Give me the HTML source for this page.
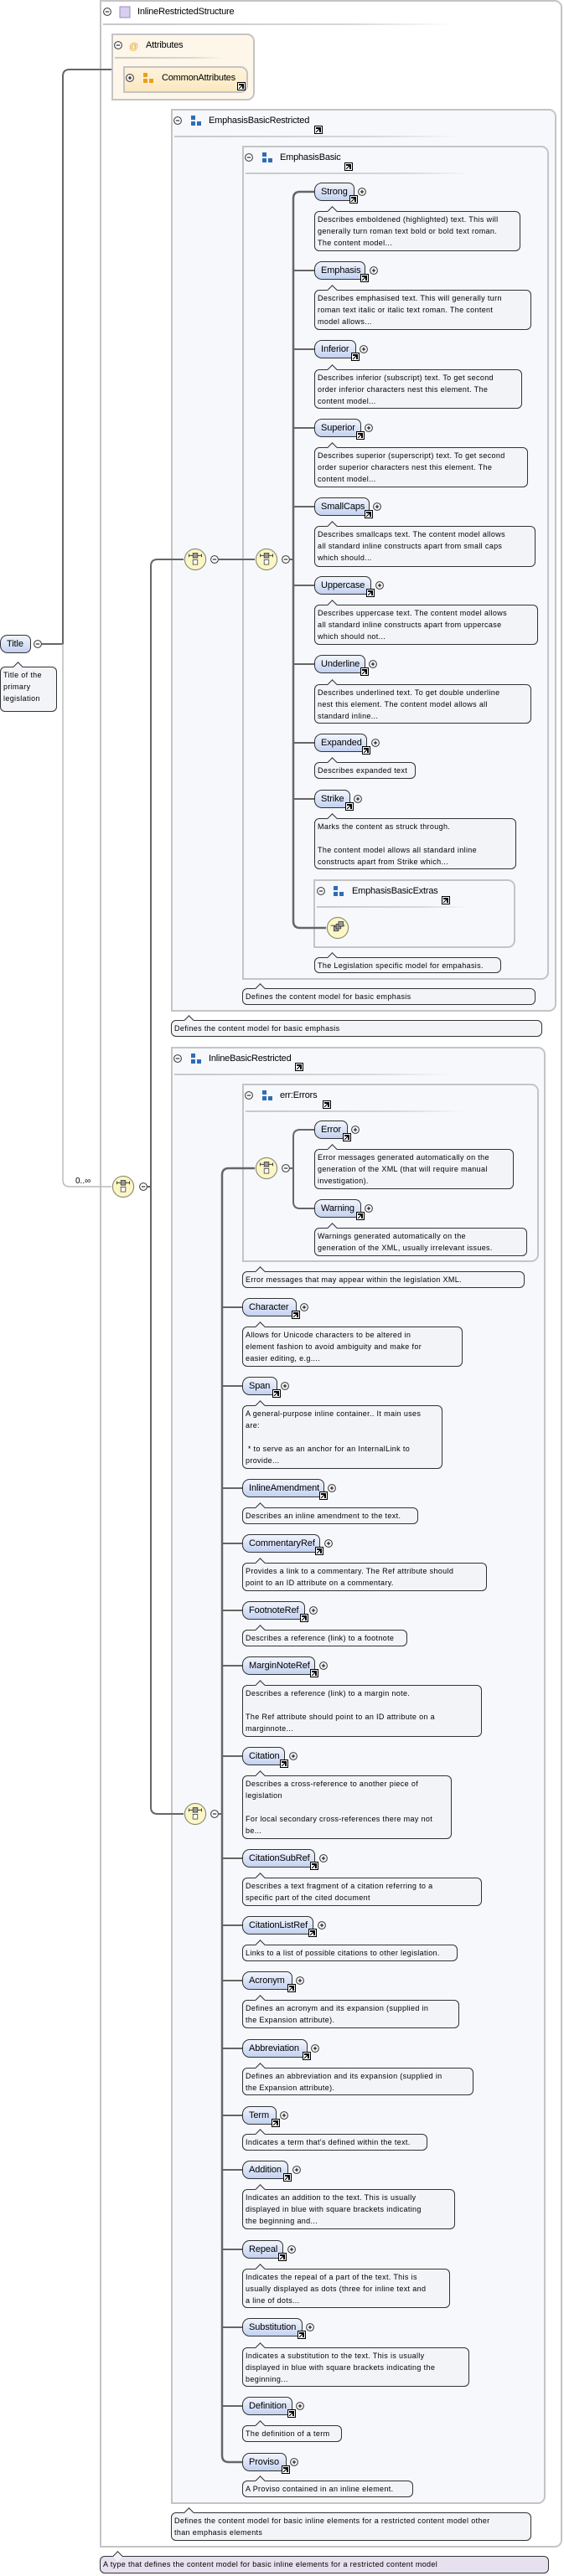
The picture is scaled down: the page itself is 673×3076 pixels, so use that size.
<!DOCTYPE html>
<html><head><meta charset="utf-8">
<style>
*{margin:0;padding:0;box-sizing:border-box}
body{width:673px;height:3076px;position:relative;background:#fff;font-family:"Liberation Sans",sans-serif;overflow:hidden}
.box{position:absolute;border:2px solid #c4c4c4;border-radius:0 9px 9px 0;background:#f6f8fc}
.sep{position:absolute;height:2px;background:linear-gradient(90deg,#c8c8c8,#d8d8d8 70%,rgba(255,255,255,0))}
.ht{position:absolute;font-size:11px;color:#000;letter-spacing:-0.2px;line-height:12px}
.el{position:absolute;height:22px;border:1px solid #333;border-radius:9px 7px 2px 9px;background:linear-gradient(#f2f5fd,#c3d2f1);font-size:11px;line-height:20px;padding-left:7px;color:#000;letter-spacing:-0.1px}
.lk{position:absolute;width:10px;height:10px;border:1px solid #000;background:#fff}
.lk:after{content:"";position:absolute;left:1px;top:1px;width:6px;height:6px;background:linear-gradient(135deg,transparent 42%,#000 42%,#000 58%,transparent 58%)}
.lk:before{content:"";position:absolute;right:1px;top:1px;width:4px;height:4px;border-top:2px solid #000;border-right:2px solid #000}
.d{position:absolute;border:1px solid #333;border-radius:6px;background:#f3f4f8;font-size:9px;letter-spacing:0.35px;line-height:14px;padding:2px 0 0 3px;color:#000;white-space:pre}
.d:before{content:"";position:absolute;left:16px;top:-5px;width:8px;height:8px;background:#f3f4f8;border-left:1px solid #333;border-top:1px solid #333;transform:rotate(45deg)}
</style></head><body>

<!-- containers -->
<div class="box" style="left:119px;top:0;width:552px;height:3042px;background:#fff"></div>
<div class="sep" style="left:123px;top:28px;width:420px"></div>
<div class="box" style="left:133px;top:40px;width:171px;height:80px;background:#fdf6e9"></div>
<div class="sep" style="left:137px;top:68px;width:130px"></div>
<div class="box" style="left:147px;top:79px;width:149px;height:32px;background:linear-gradient(#fdf3dc,#fbe8c0)"></div>
<div class="box" style="left:204px;top:130px;width:460px;height:1078px"></div>
<div class="sep" style="left:208px;top:162px;width:340px"></div>
<div class="box" style="left:289px;top:174px;width:366px;height:996px"></div>
<div class="sep" style="left:293px;top:206px;width:270px"></div>
<div class="box" style="left:374px;top:1050px;width:241px;height:82px"></div>
<div class="sep" style="left:378px;top:1082px;width:180px"></div>
<div class="box" style="left:204px;top:1250px;width:447px;height:1740px"></div>
<div class="sep" style="left:208px;top:1282px;width:330px"></div>
<div class="box" style="left:289px;top:1294px;width:354px;height:213px"></div>
<div class="sep" style="left:293px;top:1326px;width:260px"></div>

<!-- connectors & symbols -->
<svg width="673" height="3076" style="position:absolute;left:0;top:0">
<defs>
<symbol id="mn" viewBox="0 0 10 10"><circle cx="5" cy="5" r="4.4" fill="#fff" stroke="#333" stroke-width="1"/><line x1="2.8" y1="5" x2="7.2" y2="5" stroke="#000"/></symbol>
<symbol id="pl" viewBox="0 0 10 10"><circle cx="5" cy="5" r="4.4" fill="#fff" stroke="#333" stroke-width="1"/><line x1="2.8" y1="5" x2="7.2" y2="5" stroke="#000"/><line x1="5" y1="2.8" x2="5" y2="7.2" stroke="#000"/></symbol>
<symbol id="seq" viewBox="0 0 30 30"><circle cx="15" cy="15" r="13.5" fill="#fbf6c6" stroke="#8a8a70" stroke-width="1.2"/><line x1="7" y1="10" x2="23" y2="10" stroke="#333"/><line x1="7" y1="8" x2="7" y2="12" stroke="#333"/><line x1="23" y1="8" x2="23" y2="12" stroke="#333"/><rect x="12" y="7" width="6" height="6" fill="#999" stroke="#333" stroke-width=".8"/><rect x="12" y="15.5" width="6" height="6" fill="#fff" stroke="#333" stroke-width=".8"/></symbol>
<symbol id="ch" viewBox="0 0 30 30"><circle cx="15" cy="15" r="13.5" fill="#fbf6c6" stroke="#8a8a70" stroke-width="1.2"/><line x1="6" y1="12" x2="24" y2="12" stroke="#333"/><rect x="10" y="13" width="6" height="6" fill="#999" stroke="#333" stroke-width=".8"/><rect x="13" y="10" width="6" height="6" fill="#999" stroke="#333" stroke-width=".8"/><rect x="16" y="7" width="6" height="6" fill="#999" stroke="#333" stroke-width=".8"/></symbol>
</defs>
<g fill="none" stroke="#666" stroke-width="2">
<!-- Title connector -->
<path d="M50 769 H75 V91 Q75 83 83 83 H133"/>
<path d="M75 769 V1409 Q75 1417 83 1417 H133" stroke="#bbb" stroke-width="1.5"/>
<!-- 0..inf to sequence -->
<path d="M176 1417 H180 M180 1417 V676 Q180 668 188 668 H219 M180 1417 V2158 Q180 2166 188 2166 H219"/>
<path d="M261 668 H304"/>
<path d="M346 668 H350"/>
<path d="M389 1108 H358 Q350 1108 350 1100 V237 Q350 229 358 229 H375" stroke-width="2.5"/>
<path d="M350 323 H375 M350 417 H375 M350 511 H375 M350 605 H375 M350 699 H375 M350 793 H375 M350 887 H375 M350 954 H375"/>
<!-- inline -->
<path d="M304 1395 H273 Q265 1395 265 1403 V2932 Q265 2940 273 2940 H289" stroke-width="2.5"/>
<path d="M261 2166 H265"/>
<path d="M346 1395 H350 M375 1349 H358 Q350 1349 350 1357 V1435 Q350 1443 358 1443 H375"/>
<path d="M265 1561 H289 M265 1655 H289 M265 1777 H289 M265 1843 H289 M265 1923 H289 M265 1989 H289 M265 2097 H289 M265 2219 H289 M265 2299 H289 M265 2365 H289 M265 2446 H289 M265 2526 H289 M265 2591 H289 M265 2686 H289 M265 2779 H289 M265 2873 H289"/>
</g>
<use href="#seq" x="133" y="1403" width="28" height="28"/>
<use href="#seq" x="219" y="654" width="28" height="28"/>
<use href="#seq" x="304" y="654" width="28" height="28"/>
<use href="#seq" x="219" y="2152" width="28" height="28"/>
<use href="#seq" x="304" y="1381" width="28" height="28"/>
<use href="#ch" x="389" y="1094" width="28" height="28"/>
<!-- minus -->
<use href="#mn" x="123" y="9" width="10" height="10"/>
<use href="#mn" x="136" y="49" width="10" height="10"/>
<use href="#mn" x="207" y="139" width="10" height="10"/>
<use href="#mn" x="292" y="183" width="10" height="10"/>
<use href="#mn" x="378" y="1059" width="10" height="10"/>
<use href="#mn" x="207" y="1259" width="10" height="10"/>
<use href="#mn" x="292" y="1303" width="10" height="10"/>
<use href="#mn" x="40" y="764" width="10" height="10"/>
<use href="#mn" x="166" y="1412" width="10" height="10"/>
<use href="#mn" x="251" y="663" width="10" height="10"/>
<use href="#mn" x="336" y="663" width="10" height="10"/>
<use href="#mn" x="251" y="2161" width="10" height="10"/>
<use href="#mn" x="336" y="1390" width="10" height="10"/>
<use href="#pl" x="150" y="88" width="10" height="10"/>
<!-- plus for elements -->
<use href="#pl" x="427" y="224" width="10" height="10"/>
<use href="#pl" x="441" y="318" width="10" height="10"/>
<use href="#pl" x="429" y="412" width="10" height="10"/>
<use href="#pl" x="435" y="506" width="10" height="10"/>
<use href="#pl" x="445" y="600" width="10" height="10"/>
<use href="#pl" x="448" y="694" width="10" height="10"/>
<use href="#pl" x="440" y="788" width="10" height="10"/>
<use href="#pl" x="443" y="882" width="10" height="10"/>
<use href="#pl" x="422" y="949" width="10" height="10"/>
<use href="#pl" x="419" y="1344" width="10" height="10"/>
<use href="#pl" x="435" y="1438" width="10" height="10"/>
<use href="#pl" x="358" y="1556" width="10" height="10"/>
<use href="#pl" x="335" y="1650" width="10" height="10"/>
<use href="#pl" x="391" y="1772" width="10" height="10"/>
<use href="#pl" x="387" y="1838" width="10" height="10"/>
<use href="#pl" x="369" y="1918" width="10" height="10"/>
<use href="#pl" x="381" y="1984" width="10" height="10"/>
<use href="#pl" x="345" y="2092" width="10" height="10"/>
<use href="#pl" x="381" y="2214" width="10" height="10"/>
<use href="#pl" x="379" y="2294" width="10" height="10"/>
<use href="#pl" x="353" y="2360" width="10" height="10"/>
<use href="#pl" x="371" y="2441" width="10" height="10"/>
<use href="#pl" x="334" y="2521" width="10" height="10"/>
<use href="#pl" x="349" y="2586" width="10" height="10"/>
<use href="#pl" x="343" y="2681" width="10" height="10"/>
<use href="#pl" x="365" y="2774" width="10" height="10"/>
<use href="#pl" x="353" y="2868" width="10" height="10"/>
<use href="#pl" x="346" y="2935" width="10" height="10"/>
<!-- header icons -->
<rect x="143" y="8" width="12" height="13" fill="#d8cff0" stroke="#9a8cc0"/>
<text x="154" y="59" font-family="Liberation Sans" font-size="11" fill="#e3a020">@</text>
<g fill="#e8a020"><rect x="171" y="87" width="5" height="5"/><rect x="171" y="94" width="5" height="5"/><rect x="178" y="94" width="5" height="5"/></g>
<g fill="#2f6db5"><rect x="228" y="138" width="5" height="5"/><rect x="228" y="145" width="5" height="5"/><rect x="235" y="145" width="5" height="5"/>
<rect x="313" y="182" width="5" height="5"/><rect x="313" y="189" width="5" height="5"/><rect x="320" y="189" width="5" height="5"/>
<rect x="398" y="1058" width="5" height="5"/><rect x="398" y="1065" width="5" height="5"/><rect x="405" y="1065" width="5" height="5"/>
<rect x="228" y="1258" width="5" height="5"/><rect x="228" y="1265" width="5" height="5"/><rect x="235" y="1265" width="5" height="5"/>
<rect x="313" y="1302" width="5" height="5"/><rect x="313" y="1309" width="5" height="5"/><rect x="320" y="1309" width="5" height="5"/></g>
<text x="90" y="1413" font-family="Liberation Sans" font-size="10" fill="#000">0..∞</text>
</svg>

<!-- headers -->
<div class="ht" style="left:164px;top:8px">InlineRestrictedStructure</div>
<div class="ht" style="left:174px;top:48px">Attributes</div>
<div class="ht" style="left:193px;top:87px">CommonAttributes</div><div class="lk" style="left:283px;top:98px"></div>
<div class="ht" style="left:249px;top:138px">EmphasisBasicRestricted</div><div class="lk" style="left:375px;top:150px"></div>
<div class="ht" style="left:334px;top:182px">EmphasisBasic</div><div class="lk" style="left:411px;top:194px"></div>
<div class="ht" style="left:420px;top:1058px">EmphasisBasicExtras</div><div class="lk" style="left:527px;top:1070px"></div>
<div class="ht" style="left:249px;top:1258px">InlineBasicRestricted</div><div class="lk" style="left:352px;top:1269px"></div>
<div class="ht" style="left:334px;top:1302px">err:Errors</div><div class="lk" style="left:385px;top:1314px"></div>

<!-- Title -->
<div class="el" style="left:0;top:758px;width:37px;border-radius:9px 7px 7px 9px">Title</div>
<div class="d" style="left:0;top:796px;width:68px;height:54px">Title of the
primary
legislation</div>

<!-- Emphasis elements -->
<div class="el" style="left:375px;top:218px;width:48px">Strong</div><div class="lk" style="left:417px;top:233px"></div>
<div class="d" style="left:375px;top:252px;width:246px;height:48px">Describes emboldened (highlighted) text. This will
generally turn roman text bold or bold text roman.
The content model...</div>
<div class="el" style="left:375px;top:312px;width:61px">Emphasis</div><div class="lk" style="left:430px;top:327px"></div>
<div class="d" style="left:375px;top:346px;width:259px;height:48px">Describes emphasised text. This will generally turn
roman text italic or italic text roman. The content
model allows...</div>
<div class="el" style="left:375px;top:406px;width:50px">Inferior</div><div class="lk" style="left:419px;top:421px"></div>
<div class="d" style="left:375px;top:441px;width:248px;height:47px">Describes inferior (subscript) text. To get second
order inferior characters nest this element. The
content model...</div>
<div class="el" style="left:375px;top:500px;width:56px">Superior</div><div class="lk" style="left:425px;top:515px"></div>
<div class="d" style="left:375px;top:534px;width:255px;height:48px">Describes superior (superscript) text. To get second
order superior characters nest this element. The
content model...</div>
<div class="el" style="left:375px;top:594px;width:66px">SmallCaps</div><div class="lk" style="left:435px;top:609px"></div>
<div class="d" style="left:375px;top:628px;width:264px;height:49px">Describes smallcaps text. The content model allows
all standard inline constructs apart from small caps
which should...</div>
<div class="el" style="left:375px;top:688px;width:68px">Uppercase</div><div class="lk" style="left:437px;top:703px"></div>
<div class="d" style="left:375px;top:722px;width:267px;height:48px">Describes uppercase text. The content model allows
all standard inline constructs apart from uppercase
which should not...</div>
<div class="el" style="left:375px;top:782px;width:61px">Underline</div><div class="lk" style="left:430px;top:797px"></div>
<div class="d" style="left:375px;top:817px;width:259px;height:47px">Describes underlined text. To get double underline
nest this element. The content model allows all
standard inline...</div>
<div class="el" style="left:375px;top:876px;width:63px">Expanded</div><div class="lk" style="left:432px;top:891px"></div>
<div class="d" style="left:375px;top:910px;width:121px;height:20px">Describes expanded text</div>
<div class="el" style="left:375px;top:943px;width:43px">Strike</div><div class="lk" style="left:412px;top:958px"></div>
<div class="d" style="left:375px;top:977px;width:241px;height:61px">Marks the content as struck through.

The content model allows all standard inline
constructs apart from Strike which...</div>
<div class="d" style="left:375px;top:1143px;width:223px;height:19px">The Legislation specific model for empahasis.</div>
<div class="d" style="left:289px;top:1180px;width:350px;height:20px">Defines the content model for basic emphasis</div>
<div class="d" style="left:204px;top:1218px;width:443px;height:20px">Defines the content model for basic emphasis</div>

<!-- errors -->
<div class="el" style="left:375px;top:1338px;width:40px">Error</div><div class="lk" style="left:409px;top:1353px"></div>
<div class="d" style="left:375px;top:1372px;width:238px;height:48px">Error messages generated automatically on the
generation of the XML (that will require manual
investigation).</div>
<div class="el" style="left:375px;top:1432px;width:56px">Warning</div><div class="lk" style="left:425px;top:1447px"></div>
<div class="d" style="left:375px;top:1466px;width:254px;height:34px">Warnings generated automatically on the
generation of the XML, usually irrelevant issues.</div>
<div class="d" style="left:289px;top:1518px;width:337px;height:20px">Error messages that may appear within the legislation XML.</div>

<!-- inline elements -->
<div class="el" style="left:289px;top:1550px;width:65px">Character</div><div class="lk" style="left:348px;top:1565px"></div>
<div class="d" style="left:289px;top:1584px;width:263px;height:48px">Allows for Unicode characters to be altered in
element fashion to avoid ambiguity and make for
easier editing, e.g....</div>
<div class="el" style="left:289px;top:1644px;width:42px">Span</div><div class="lk" style="left:325px;top:1659px"></div>
<div class="d" style="left:289px;top:1678px;width:239px;height:76px">A general-purpose inline container.. It main uses
are:

 * to serve as an anchor for an InternalLink to
provide...</div>
<div class="el" style="left:289px;top:1766px;width:98px">InlineAmendment</div><div class="lk" style="left:381px;top:1781px"></div>
<div class="d" style="left:289px;top:1800px;width:210px;height:20px">Describes an inline amendment to the text.</div>
<div class="el" style="left:289px;top:1832px;width:93px">CommentaryRef</div><div class="lk" style="left:376px;top:1847px"></div>
<div class="d" style="left:289px;top:1866px;width:292px;height:34px">Provides a link to a commentary. The Ref attribute should
point to an ID attribute on a commentary.</div>
<div class="el" style="left:289px;top:1912px;width:75px">FootnoteRef</div><div class="lk" style="left:358px;top:1927px"></div>
<div class="d" style="left:289px;top:1946px;width:197px;height:20px">Describes a reference (link) to a footnote</div>
<div class="el" style="left:289px;top:1978px;width:87px">MarginNoteRef</div><div class="lk" style="left:370px;top:1993px"></div>
<div class="d" style="left:289px;top:2012px;width:286px;height:62px">Describes a reference (link) to a margin note.

The Ref attribute should point to an ID attribute on a
marginnote...</div>
<div class="el" style="left:289px;top:2086px;width:51px">Citation</div><div class="lk" style="left:334px;top:2101px"></div>
<div class="d" style="left:289px;top:2120px;width:250px;height:76px">Describes a cross-reference to another piece of
legislation

For local secondary cross-references there may not
be...</div>
<div class="el" style="left:289px;top:2208px;width:87px">CitationSubRef</div><div class="lk" style="left:370px;top:2223px"></div>
<div class="d" style="left:289px;top:2242px;width:286px;height:34px">Describes a text fragment of a citation referring to a
specific part of the cited document</div>
<div class="el" style="left:289px;top:2288px;width:85px">CitationListRef</div><div class="lk" style="left:368px;top:2303px"></div>
<div class="d" style="left:289px;top:2322px;width:257px;height:20px">Links to a list of possible citations to other legislation.</div>
<div class="el" style="left:289px;top:2354px;width:60px">Acronym</div><div class="lk" style="left:343px;top:2369px"></div>
<div class="d" style="left:289px;top:2388px;width:259px;height:34px">Defines an acronym and its expansion (supplied in
the Expansion attribute).</div>
<div class="el" style="left:289px;top:2435px;width:78px">Abbreviation</div><div class="lk" style="left:361px;top:2450px"></div>
<div class="d" style="left:289px;top:2469px;width:276px;height:33px">Defines an abbreviation and its expansion (supplied in
the Expansion attribute).</div>
<div class="el" style="left:289px;top:2515px;width:41px">Term</div><div class="lk" style="left:324px;top:2530px"></div>
<div class="d" style="left:289px;top:2548px;width:221px;height:20px">Indicates a term that's defined within the text.</div>
<div class="el" style="left:289px;top:2580px;width:55px">Addition</div><div class="lk" style="left:338px;top:2595px"></div>
<div class="d" style="left:289px;top:2614px;width:254px;height:48px">Indicates an addition to the text. This is usually
displayed in blue with square brackets indicating
the beginning and...</div>
<div class="el" style="left:289px;top:2675px;width:49px">Repeal</div><div class="lk" style="left:332px;top:2690px"></div>
<div class="d" style="left:289px;top:2709px;width:248px;height:47px">Indicates the repeal of a part of the text. This is
usually displayed as dots (three for inline text and
a line of dots...</div>
<div class="el" style="left:289px;top:2768px;width:72px">Substitution</div><div class="lk" style="left:355px;top:2783px"></div>
<div class="d" style="left:289px;top:2803px;width:271px;height:47px">Indicates a substitution to the text. This is usually
displayed in blue with square brackets indicating the
beginning...</div>
<div class="el" style="left:289px;top:2862px;width:60px">Definition</div><div class="lk" style="left:343px;top:2877px"></div>
<div class="d" style="left:289px;top:2896px;width:119px;height:20px">The definition of a term</div>
<div class="el" style="left:289px;top:2929px;width:53px">Proviso</div><div class="lk" style="left:336px;top:2944px"></div>
<div class="d" style="left:289px;top:2962px;width:204px;height:20px">A Proviso contained in an inline element.</div>

<div class="d" style="left:204px;top:3000px;width:430px;height:34px">Defines the content model for basic inline elements for a restricted content model other
than emphasis elements</div>
<div class="d" style="left:119px;top:3052px;width:536px;height:21px;background:#e6e0ef">A type that defines the content model for basic inline elements for a restricted content model</div>
</body></html>
